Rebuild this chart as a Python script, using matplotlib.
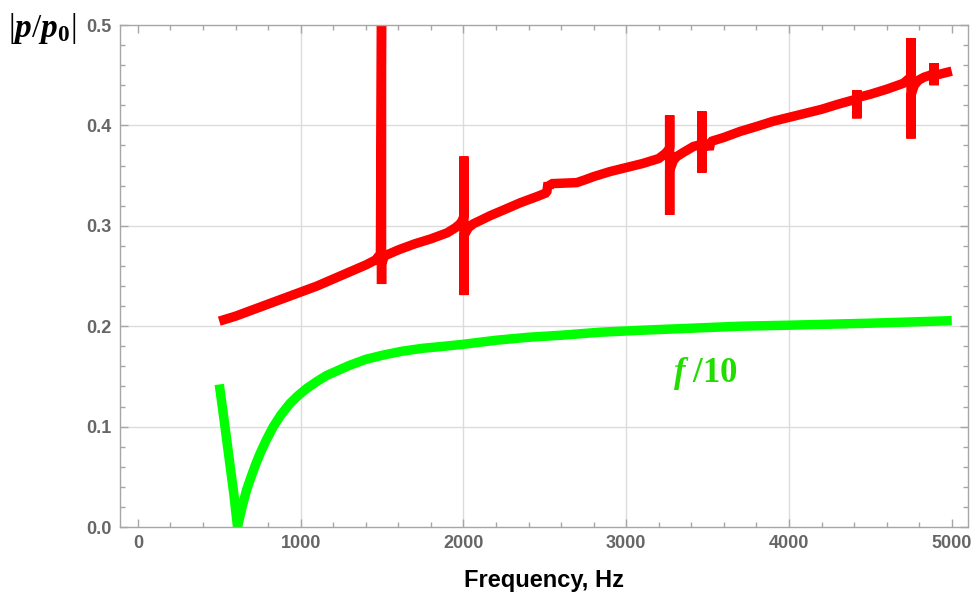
import matplotlib.pyplot as plt
from matplotlib.ticker import MultipleLocator, FormatStrFormatter

# red curve |p/p0| (Hz, value), spikes included
red_f = [500, 600, 700, 800, 900, 1000, 1100, 1200, 1300, 1400, 1460, 1490, 1497, 1497,
         1497, 1515, 1600, 1700, 1800, 1900, 1950, 1980, 1995, 2003, 2003, 2003, 2003,
         2030, 2061, 2100, 2163, 2250, 2350, 2450, 2512, 2520, 2528, 2540, 2696, 2750,
         2800, 2900, 3000, 3100, 3200, 3240, 3262, 3267, 3267, 3267, 3267, 3290, 3311,
         3350, 3413, 3460, 3465, 3465, 3465, 3465, 3474, 3500, 3510, 3520, 3600, 3700,
         3803, 3900, 4000, 4100, 4200, 4300, 4410, 4417, 4417, 4417, 4417, 4428, 4500,
         4600, 4704, 4740, 4750, 4750, 4750, 4750, 4770, 4796, 4830, 4868, 4888, 4892,
         4892, 4892, 4892, 4902, 4950, 5000]
red_v = [0.205, 0.210, 0.216, 0.222, 0.228, 0.234, 0.240, 0.247, 0.254, 0.261, 0.266, 0.272,
         0.52, 0.242, 0.262, 0.270, 0.276, 0.282, 0.287, 0.293, 0.298, 0.302, 0.306, 0.310,
         0.369, 0.231, 0.290, 0.298, 0.302, 0.305, 0.310, 0.316, 0.323, 0.329, 0.333, 0.343,
         0.339, 0.342, 0.343, 0.346, 0.349, 0.354, 0.358, 0.362, 0.367, 0.372, 0.376, 0.378,
         0.410, 0.311, 0.355, 0.365, 0.369, 0.373, 0.379, 0.381, 0.381, 0.414, 0.353, 0.378,
         0.378, 0.381, 0.376, 0.384, 0.388, 0.394, 0.399, 0.404, 0.408, 0.412, 0.416, 0.421,
         0.426, 0.427, 0.435, 0.407, 0.428, 0.428, 0.431, 0.436, 0.442, 0.447, 0.449, 0.487,
         0.387, 0.430, 0.440, 0.445, 0.448, 0.450, 0.452, 0.452, 0.462, 0.440, 0.450, 0.450,
         0.452, 0.454]

# green curve f/10
green_f = [500, 530, 560, 590, 612, 640, 668, 700, 725, 750, 790, 832, 880, 934, 985, 1037,
           1100, 1160, 1230, 1300, 1400, 1500, 1620, 1750, 1880, 2000, 2200, 2400, 2600,
           2840, 3100, 3400, 3700, 4000, 4500, 5000]
green_v = [0.142, 0.106, 0.069, 0.032, 0.0, 0.020, 0.037, 0.052, 0.063, 0.073, 0.087, 0.100,
           0.112, 0.123, 0.131, 0.138, 0.145, 0.151, 0.156, 0.161, 0.167, 0.171, 0.175, 0.178,
           0.180, 0.182, 0.186, 0.189, 0.191, 0.194, 0.196, 0.198, 0.200, 0.201, 0.203, 0.2055]

x_ticks = [0, 1000, 2000, 3000, 4000, 5000]
x_grid = [1000, 2000, 3000, 4000]
y_ticks = [0.0, 0.1, 0.2, 0.3, 0.4, 0.5]
y_grid = [0.1, 0.2, 0.3, 0.4]

plt.rcParams['mathtext.fontset'] = 'custom'
plt.rcParams['mathtext.rm'] = 'Liberation Serif'
plt.rcParams['mathtext.it'] = 'Liberation Serif:italic'
plt.rcParams['mathtext.bf'] = 'Liberation Serif:bold'
plt.rcParams['mathtext.bfit'] = 'Liberation Serif:italic:bold'

fig = plt.figure(figsize=(9.77, 5.92), dpi=100)
ax = fig.add_axes([120 / 977, 1 - 527 / 592, (968 - 120) / 977, (527 - 25) / 592])

for g in x_grid:
    ax.axvline(g, color='#dcdcdc', lw=1, zorder=0)
for g in y_grid:
    ax.axhline(g, color='#dcdcdc', lw=1, zorder=0)

ax.plot(red_f, red_v, color='#ff0000', lw=6.8, solid_joinstyle='bevel', solid_capstyle='butt')
ax.plot(green_f, green_v, color='#00ff00', lw=6.8, solid_joinstyle='bevel', solid_capstyle='butt')

ax.set_xlim(-110, 5100)
ax.set_ylim(0, 0.5)
ax.set_xticks(x_ticks)
ax.set_yticks(y_ticks)
ax.xaxis.set_minor_locator(MultipleLocator(200))
ax.yaxis.set_minor_locator(MultipleLocator(0.02))
ax.yaxis.set_major_formatter(FormatStrFormatter('%.1f'))

spine_c = '#a6a6a6'
for s in ax.spines.values():
    s.set_color(spine_c)
    s.set_linewidth(1)
ax.tick_params(which='both', direction='in', top=True, right=True, color=spine_c, width=1)
ax.tick_params(which='major', length=6, labelsize=13, labelcolor='#666666', pad=6)
ax.tick_params(which='minor', length=3.5)
for lab in ax.get_xticklabels() + ax.get_yticklabels():
    lab.set_fontweight('bold')
    lab.set_family('Liberation Sans')

ax.set_xlabel('Frequency, Hz', fontsize=17, fontweight='bold', family='Liberation Sans', labelpad=12)

ax.text(3485, 0.153, r'$\mathbfit{f}\ \mathbf{/10}$', color='#22dd00', fontsize=25,
        ha='center', va='center')

fig.text(0.008, 0.952, r'$|\mathbfit{p}/\mathbfit{p}_\mathbf{0}|$', fontsize=24,
         ha='left', va='center', color='black')

plt.savefig('out.png', dpi=100)
plt.close()
